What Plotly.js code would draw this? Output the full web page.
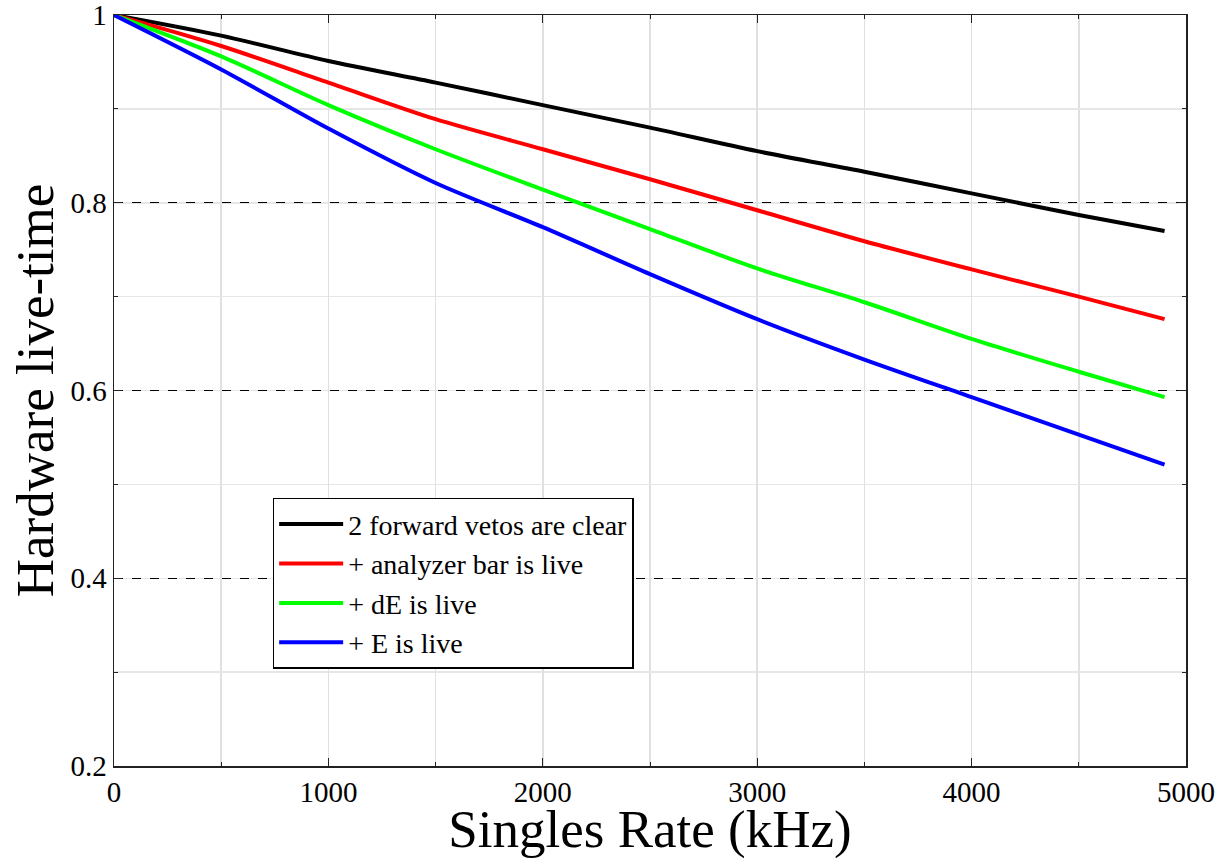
<!DOCTYPE html>
<html>
<head>
<meta charset="utf-8">
<script src="https://cdn.plot.ly/plotly-3.0.1.min.js"></script>
<style>html,body{margin:0;padding:0;background:#fff;}#chart{width:1218px;height:859px;}</style>
</head>
<body>
<div id="chart"></div>
<script>
const rate = [0, 500, 1000, 1500, 2000, 2500, 3000, 3500, 4000, 4500, 4900];
const vetosClear = [1, 0.978, 0.951, 0.928, 0.904, 0.880, 0.855, 0.833, 0.810, 0.787, 0.770];
const analyzerLive = [1, 0.967, 0.928, 0.889, 0.857, 0.825, 0.792, 0.759, 0.729, 0.700, 0.676];
const dELive = [1, 0.956, 0.904, 0.857, 0.814, 0.772, 0.730, 0.694, 0.655, 0.620, 0.593];
const eLive = [1, 0.942, 0.879, 0.821, 0.774, 0.724, 0.676, 0.633, 0.593, 0.553, 0.521];
const seriesNames = ["2 forward vetos are clear", "+ analyzer bar is live", "+ dE is live", "+ E is live"];
const seriesColors = ["#000000", "#ff0000", "#00ff00", "#0000ff"];
const seriesValues = [vetosClear, analyzerLive, dELive, eLive];

const font = "Liberation Serif";
const traces = seriesValues.map((v, i) => ({
  x: rate, y: v, type: "scatter", mode: "lines", name: seriesNames[i],
  line: {color: seriesColors[i], width: 4, shape: "spline", smoothing: 0.8}
}));

const layout = {
  width: 1218, height: 859,
  margin: {l: 114, r: 32, t: 15, b: 93},
  paper_bgcolor: "#fff", plot_bgcolor: "#fff",
  font: {family: font, color: "#000", size: 24},
  showlegend: true,
  legend: {
    x: 0.148, y: 0.357, xanchor: "left", yanchor: "top",
    bgcolor: "#fff", bordercolor: "#000", borderwidth: 1.5,
    font: {family: font, size: 28, color: "#000"},
    itemwidth: 64,
    tracegroupgap: 0
  },
  xaxis: {
    range: [0, 5000], dtick: 1000, tick0: 0,
    showline: true, linecolor: "#222", linewidth: 1.5, mirror: "ticks",
    ticks: "inside", ticklen: 8, tickcolor: "#222",
    showgrid: true, gridcolor: "#e0e0e0", gridwidth: 1.5,
    zeroline: false, ticklabeloverflow: "allow",
    tickfont: {family: font, size: 29, color: "#000"},
    minor: {dtick: 500, showgrid: true, gridcolor: "#e0e0e0", gridwidth: 1.5, griddash: "solid", ticks: "inside", ticklen: 4, tickcolor: "#222"},
    title: {text: "Singles Rate (kHz)", font: {family: font, size: 53, color: "#000"}, standoff: 7}
  },
  yaxis: {
    range: [0.2, 1], dtick: 0.2, tick0: 0.2,
    tickvals: [0.2, 0.4, 0.6, 0.8, 1.0], ticktext: ["0.2", "0.4", "0.6", "0.8", "1"],
    showline: true, linecolor: "#222", linewidth: 1.5, mirror: "ticks",
    ticks: "inside", ticklen: 8, tickcolor: "#222",
    showgrid: true, gridcolor: "#000", gridwidth: 1.2, griddash: "dash",
    zeroline: false, ticklabeloverflow: "allow",
    tickfont: {family: font, size: 29, color: "#000"},
    minor: {dtick: 0.1, tick0: 0.2, showgrid: true, gridcolor: "#e6e6e6", gridwidth: 1.5, griddash: "solid", ticks: "inside", ticklen: 4, tickcolor: "#222"},
    title: {text: "Hardware live-time", font: {family: font, size: 53, color: "#000"}, standoff: 0}
  }
};

Plotly.newPlot("chart", traces, layout, {displayModeBar: false, staticPlot: true});
</script>
</body>
</html>
